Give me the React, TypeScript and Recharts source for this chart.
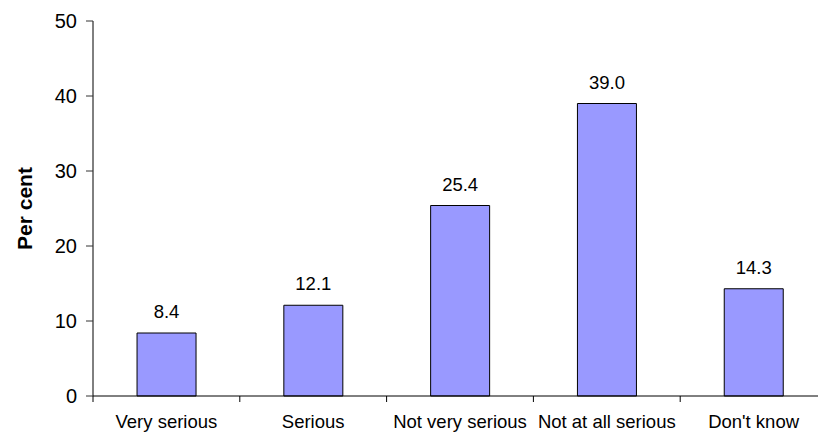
import { Bar, BarChart, LabelList, XAxis, YAxis } from "recharts";

const categories = [
  "Very serious",
  "Serious",
  "Not very serious",
  "Not at all serious",
  "Don't know",
];
const perCent = [8.4, 12.1, 25.4, 39.0, 14.3];
const yTicks = [0, 10, 20, 30, 40, 50];

const data = categories.map((name, i) => ({ name, value: perCent[i] }));

const font = "'Liberation Sans', Arial, sans-serif";

// category label plus the small tick marks that sit between categories
function CategoryTick(props: any) {
  const { x, y, payload, index } = props;
  const half = payload && payload.offset ? payload.offset : 73.4;
  const axisY = y - 19;
  const last = index === categories.length - 1;
  return (
    <g>
      <line x1={x - half} x2={x - half} y1={axisY} y2={axisY + 6} stroke="#000" />
      {last && (
        <line x1={x + half} x2={x + half} y1={axisY} y2={axisY + 6} stroke="#000" />
      )}
      <text
        x={x}
        y={y}
        dy="0.71em"
        textAnchor="middle"
        fontSize={18.5}
        fontFamily={font}
        fill="#000"
      >
        {payload.value}
      </text>
    </g>
  );
}

export default function App() {
  return (
    <div
      style={{
        position: "absolute",
        left: 0,
        top: 0,
        width: 818,
        height: 432,
        overflow: "hidden",
        background: "#fff",
      }}
    >
      <BarChart
        width={830}
        height={432}
        data={data}
        margin={{ top: 21, right: 3, bottom: 6, left: 0 }}
        barCategoryGap="30%"
        style={{ fontFamily: font }}
      >
        <XAxis
          dataKey="name"
          height={30}
          tickSize={0}
          tickMargin={19}
          tickLine={false}
          axisLine={{ stroke: "#000" }}
          interval={0}
          tick={<CategoryTick />}
        />
        <YAxis
          domain={[0, 50]}
          ticks={yTicks}
          width={93}
          tickSize={7}
          tickMargin={9}
          axisLine={{ stroke: "#000" }}
          tickLine={{ stroke: "#333" }}
          tick={{ fill: "#000", fontSize: 20, fontFamily: font }}
          label={({ viewBox }: any) => (
            <text
              x={viewBox.x + 24}
              y={viewBox.y + viewBox.height / 2}
              transform={`rotate(-90, ${viewBox.x + 24}, ${viewBox.y + viewBox.height / 2})`}
              textAnchor="middle"
              dominantBaseline="central"
              fontSize={21}
              fontWeight="bold"
              fontFamily={font}
              fill="#000"
            >
              Per cent
            </text>
          )}
        />
        <Bar
          dataKey="value"
          fill="#9999FF"
          stroke="#000"
          strokeWidth={1}
          isAnimationActive={false}
        >
          <LabelList
            dataKey="value"
            position="top"
            offset={15}
            formatter={(v: any) => Number(v).toFixed(1)}
            style={{ fill: "#000", fontSize: 18.5, fontFamily: font }}
          />
        </Bar>
      </BarChart>
    </div>
  );
}
